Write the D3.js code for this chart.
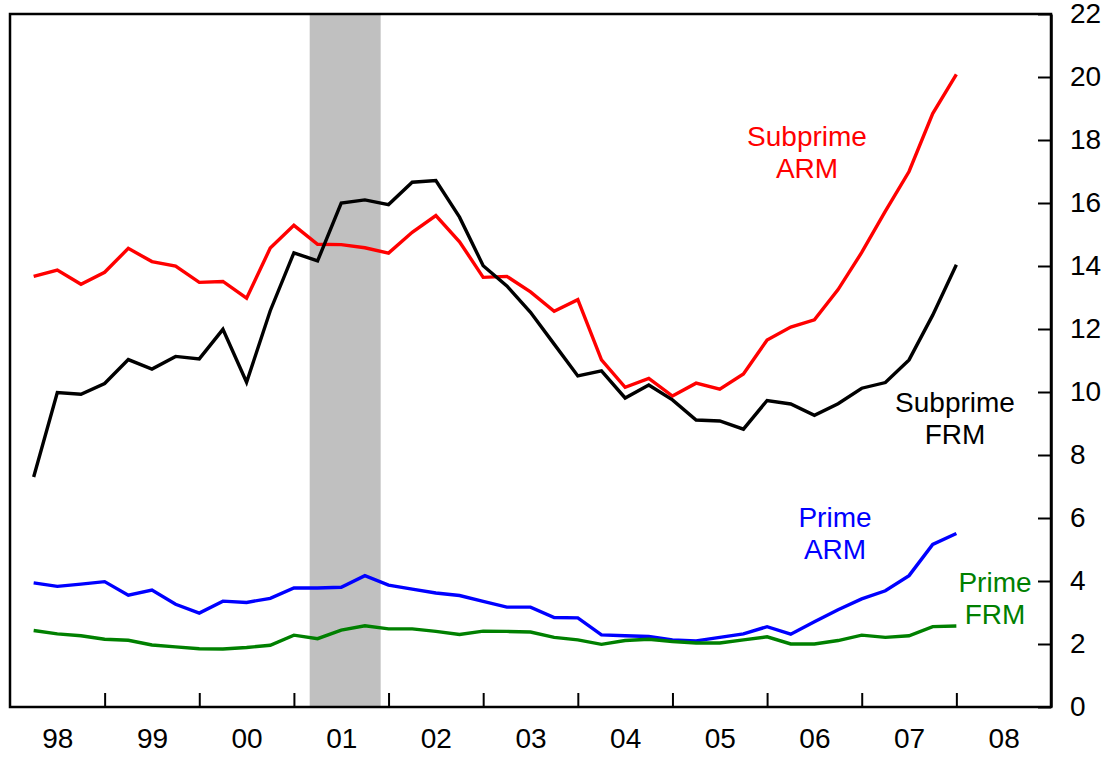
<!DOCTYPE html>
<html>
<head>
<meta charset="utf-8">
<script src="https://cdn.jsdelivr.net/npm/d3@7"></script>
<style>
  body { margin: 0; background: #fff; }
  svg { display: block; font-family: "Liberation Sans", Arial, sans-serif; }
</style>
</head>
<body>
<script>
// quarters, plotted at the end of each quarter
var quarters = [
  "1998Q1","1998Q2","1998Q3","1998Q4","1999Q1","1999Q2","1999Q3","1999Q4",
  "2000Q1","2000Q2","2000Q3","2000Q4","2001Q1","2001Q2","2001Q3","2001Q4",
  "2002Q1","2002Q2","2002Q3","2002Q4","2003Q1","2003Q2","2003Q3","2003Q4",
  "2004Q1","2004Q2","2004Q3","2004Q4","2005Q1","2005Q2","2005Q3","2005Q4",
  "2006Q1","2006Q2","2006Q3","2006Q4","2007Q1","2007Q2","2007Q3","2007Q4"
];

var subprimeARM = [13.67,13.87,13.42,13.8,14.56,14.14,14.0,13.48,13.51,12.98,
  14.57,15.29,14.69,14.68,14.58,14.41,15.07,15.6,14.77,13.64,
  13.67,13.18,12.56,12.93,11.02,10.15,10.43,9.87,10.28,10.09,
  10.57,11.65,12.06,12.29,13.25,14.43,15.74,17.0,18.84,20.08];

var subprimeFRM = [7.3,9.98,9.93,10.27,11.03,10.73,11.13,11.05,11.99,10.31,
  12.58,14.42,14.16,16.0,16.1,15.95,16.66,16.71,15.55,14.01,
  13.37,12.53,11.52,10.51,10.67,9.81,10.22,9.75,9.11,9.08,
  8.82,9.73,9.62,9.26,9.63,10.12,10.3,11.02,12.44,14.04];

var primeARM = [3.94,3.83,3.9,3.98,3.55,3.71,3.26,2.98,3.36,3.32,
  3.45,3.78,3.78,3.8,4.17,3.87,3.74,3.62,3.54,3.35,
  3.17,3.17,2.84,2.83,2.29,2.26,2.24,2.13,2.1,2.21,
  2.32,2.55,2.31,2.71,3.09,3.43,3.69,4.17,5.16,5.51];

var primeFRM = [2.43,2.32,2.26,2.15,2.12,1.97,1.91,1.85,1.84,1.89,
  1.96,2.28,2.17,2.44,2.58,2.48,2.48,2.4,2.3,2.41,
  2.4,2.38,2.21,2.13,1.99,2.11,2.15,2.08,2.03,2.03,
  2.13,2.23,2.0,2.0,2.11,2.28,2.21,2.26,2.55,2.57];

var yearLabels = ["98","99","00","01","02","03","04","05","06","07","08"];
var yTicks = [0,2,4,6,8,10,12,14,16,18,20,22];
var recession = [2001 + 2/12, 2001 + 11/12];

var series = [
  { name: ["Subprime","ARM"], values: subprimeARM, color: "#ff0000", lx: 807, ly: 146 },
  { name: ["Subprime","FRM"], values: subprimeFRM, color: "#000000", lx: 955, ly: 412 },
  { name: ["Prime","ARM"],    values: primeARM,    color: "#0000ff", lx: 835, ly: 527 },
  { name: ["Prime","FRM"],    values: primeFRM,    color: "#008000", lx: 995, ly: 592 }
];

function init(){
  var w = 1113, h = 757;
  var left = 10, right = 1051, top = 14, bottom = 707;

  var svg = d3.select("body").append("svg")
      .attr("width", w)
      .attr("height", h);

  var xScale = d3.scaleLinear().domain([1998, 2009]).range([left, right]);
  var yScale = d3.scaleLinear().domain([0, 22]).range([bottom, top]);

  function qx(q){
    return +q.slice(0,4) + (+q.slice(5)) / 4;
  }

  // recession shading
  svg.append("rect")
      .attr("x", xScale(recession[0]))
      .attr("y", top)
      .attr("width", xScale(recession[1]) - xScale(recession[0]))
      .attr("height", bottom - top)
      .attr("fill", "#c0c0c0");

  var line = d3.line()
      .x(function(d, i){ return xScale(qx(quarters[i])); })
      .y(function(d){ return yScale(d); });

  series.forEach(function(s){
    svg.append("path")
        .datum(s.values)
        .attr("d", line)
        .attr("fill", "none")
        .attr("stroke", s.color)
        .attr("stroke-width", 3.4)
        .attr("stroke-linejoin", "miter");

    var t = svg.append("text")
        .attr("text-anchor", "middle")
        .attr("fill", s.color)
        .style("font-size", "28px");
    s.name.forEach(function(n, k){
      t.append("tspan").attr("x", s.lx).attr("y", s.ly + k * 32).text(n);
    });
  });

  // frame
  svg.append("rect")
      .attr("x", left).attr("y", top)
      .attr("width", right - left).attr("height", bottom - top)
      .attr("fill", "none")
      .attr("stroke", "#000")
      .attr("stroke-width", 2.5);

  // right axis, ticks pointing inward
  var yAxis = d3.axisRight(yScale)
      .tickValues(yTicks)
      .tickSizeInner(-13)
      .tickSizeOuter(0)
      .tickPadding(19)
      .tickFormat(function(d){ return d; });
  var gy = svg.append("g")
      .attr("transform", "translate(" + right + ",0)")
      .call(yAxis);
  gy.select(".domain").attr("stroke-width", 2.5);
  gy.selectAll("line").attr("stroke-width", 2);
  gy.selectAll("text").style("font-size", "28px").attr("fill", "#000");

  // bottom axis: ticks at year boundaries, labels mid-year
  var gx = svg.append("g")
      .attr("transform", "translate(0," + bottom + ")")
      .call(d3.axisBottom(xScale)
        .tickValues(d3.range(1999, 2009))
        .tickSizeInner(-14)
        .tickSizeOuter(0)
        .tickFormat(""));
  gx.select(".domain").remove();
  gx.selectAll("line").attr("stroke-width", 2);

  var gl = svg.append("g")
      .attr("transform", "translate(0," + bottom + ")")
      .call(d3.axisBottom(xScale)
        .tickValues(yearLabels.map(function(d, i){ return 1998.5 + i; }))
        .tickSize(0)
        .tickPadding(21)
        .tickFormat(function(d, i){ return yearLabels[i]; }));
  gl.select(".domain").remove();
  gl.selectAll("text").style("font-size", "28px").attr("fill", "#000");
}
window.onload = init;
</script>
</body>
</html>
